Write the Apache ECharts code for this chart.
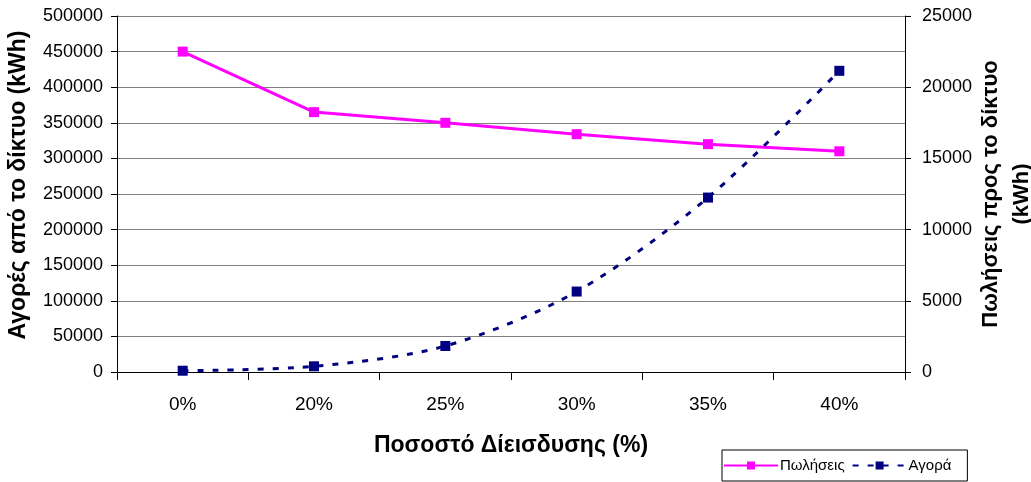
<!DOCTYPE html>
<html>
<head>
<meta charset="utf-8">
<script src="https://cdn.jsdelivr.net/npm/echarts@6/dist/echarts.min.js"></script>
<style>
  html, body { margin: 0; padding: 0; background: #ffffff; }
  #chart { width: 1031px; height: 482px; }
</style>
</head>
<body>
<div id="chart"></div>
<script>
// Penetration percentages on the category axis
const categories = ['0%', '20%', '25%', '30%', '35%', '40%'];
// Sales to the grid (kWh), right axis
const salesValues = [22500, 18250, 17500, 16700, 16000, 15500];
// Purchases from the grid (kWh), left axis
const purchaseValues = [1800, 8000, 36500, 113000, 245000, 423000];

const FONT = '"Liberation Sans", Arial, sans-serif';
const plain = v => String(v);

const chart = echarts.init(document.getElementById('chart'), null, { renderer: 'canvas' });

chart.setOption({
  animation: false,
  backgroundColor: '#ffffff',
  textStyle: { fontFamily: FONT },
  grid: { left: 117, right: 126, top: 16, bottom: 110, containLabel: false, outerBoundsMode: 'none' },
  legend: {
    left: 722, top: 450, width: 245, height: 31,
    padding: [8, 16, 8, 1],
    borderColor: '#000000', borderWidth: 1,
    itemWidth: 54, itemHeight: 10, itemGap: 7,
    textStyle: { fontFamily: FONT, fontSize: 15, color: '#000000', padding: [0, 0, 0, -3] },
    data: ['Πωλήσεις', 'Αγορά']
  },
  xAxis: {
    type: 'category',
    data: categories,
    boundaryGap: true,
    name: 'Ποσοστό Δίεισδυσης (%)',
    nameLocation: 'middle',
    nameGap: 62,
    nameTextStyle: { fontFamily: FONT, fontSize: 23, fontWeight: 'bold', color: '#000000' },
    axisLine: { lineStyle: { color: '#000000', width: 1 } },
    axisTick: { show: true, alignWithLabel: false, interval: 0, length: 8, lineStyle: { color: '#000000' } },
    axisLabel: { fontFamily: FONT, fontSize: 19, color: '#000000', margin: 23 },
    splitLine: { show: false }
  },
  yAxis: [
    {
      type: 'value',
      min: 0, max: 500000, interval: 50000,
      position: 'left',
      name: 'Αγορές από το δίκτυο (kWh)',
      nameLocation: 'middle',
      nameRotate: 90,
      nameGap: 87,
      nameTextStyle: { fontFamily: FONT, fontSize: 23, fontWeight: 'bold', color: '#000000', padding: [0, 0, 0, 18] },
      axisLine: { show: true, lineStyle: { color: '#000000', width: 1 } },
      axisTick: { show: true, inside: false, length: 6, lineStyle: { color: '#000000' } },
      axisLabel: { fontFamily: FONT, fontSize: 18, color: '#000000', margin: 14, formatter: plain },
      splitLine: { show: true, lineStyle: { color: '#808080', width: 1 } }
    },
    {
      type: 'value',
      min: 0, max: 25000, interval: 5000,
      position: 'right',
      name: 'Πωλήσεις προς το δίκτυο\n(kWh)',
      nameLocation: 'middle',
      nameRotate: 90,
      nameGap: 70,
      nameMoveOverlap: false,
      nameTextStyle: { fontFamily: FONT, fontSize: 22, fontWeight: 'bold', color: '#000000', lineHeight: 31 },
      axisLine: { show: true, lineStyle: { color: '#000000', width: 1 } },
      axisTick: { show: true, length: 6, lineStyle: { color: '#000000' } },
      axisLabel: { fontFamily: FONT, fontSize: 18, color: '#000000', margin: 17, formatter: plain },
      splitLine: { show: false }
    }
  ],
  series: [
    {
      name: 'Πωλήσεις',
      type: 'line',
      yAxisIndex: 1,
      data: salesValues,
      symbol: 'rect',
      symbolSize: 10,
      itemStyle: { color: '#ff00ff' },
      lineStyle: { color: '#ff00ff', width: 3 }
    },
    {
      name: 'Αγορά',
      type: 'line',
      yAxisIndex: 0,
      data: purchaseValues,
      smooth: 0.3,
      symbol: 'rect',
      symbolSize: 10,
      itemStyle: { color: '#000080' },
      lineStyle: { color: '#000080', width: 3, type: [6, 9] }
    }
  ]
});
</script>
</body>
</html>
